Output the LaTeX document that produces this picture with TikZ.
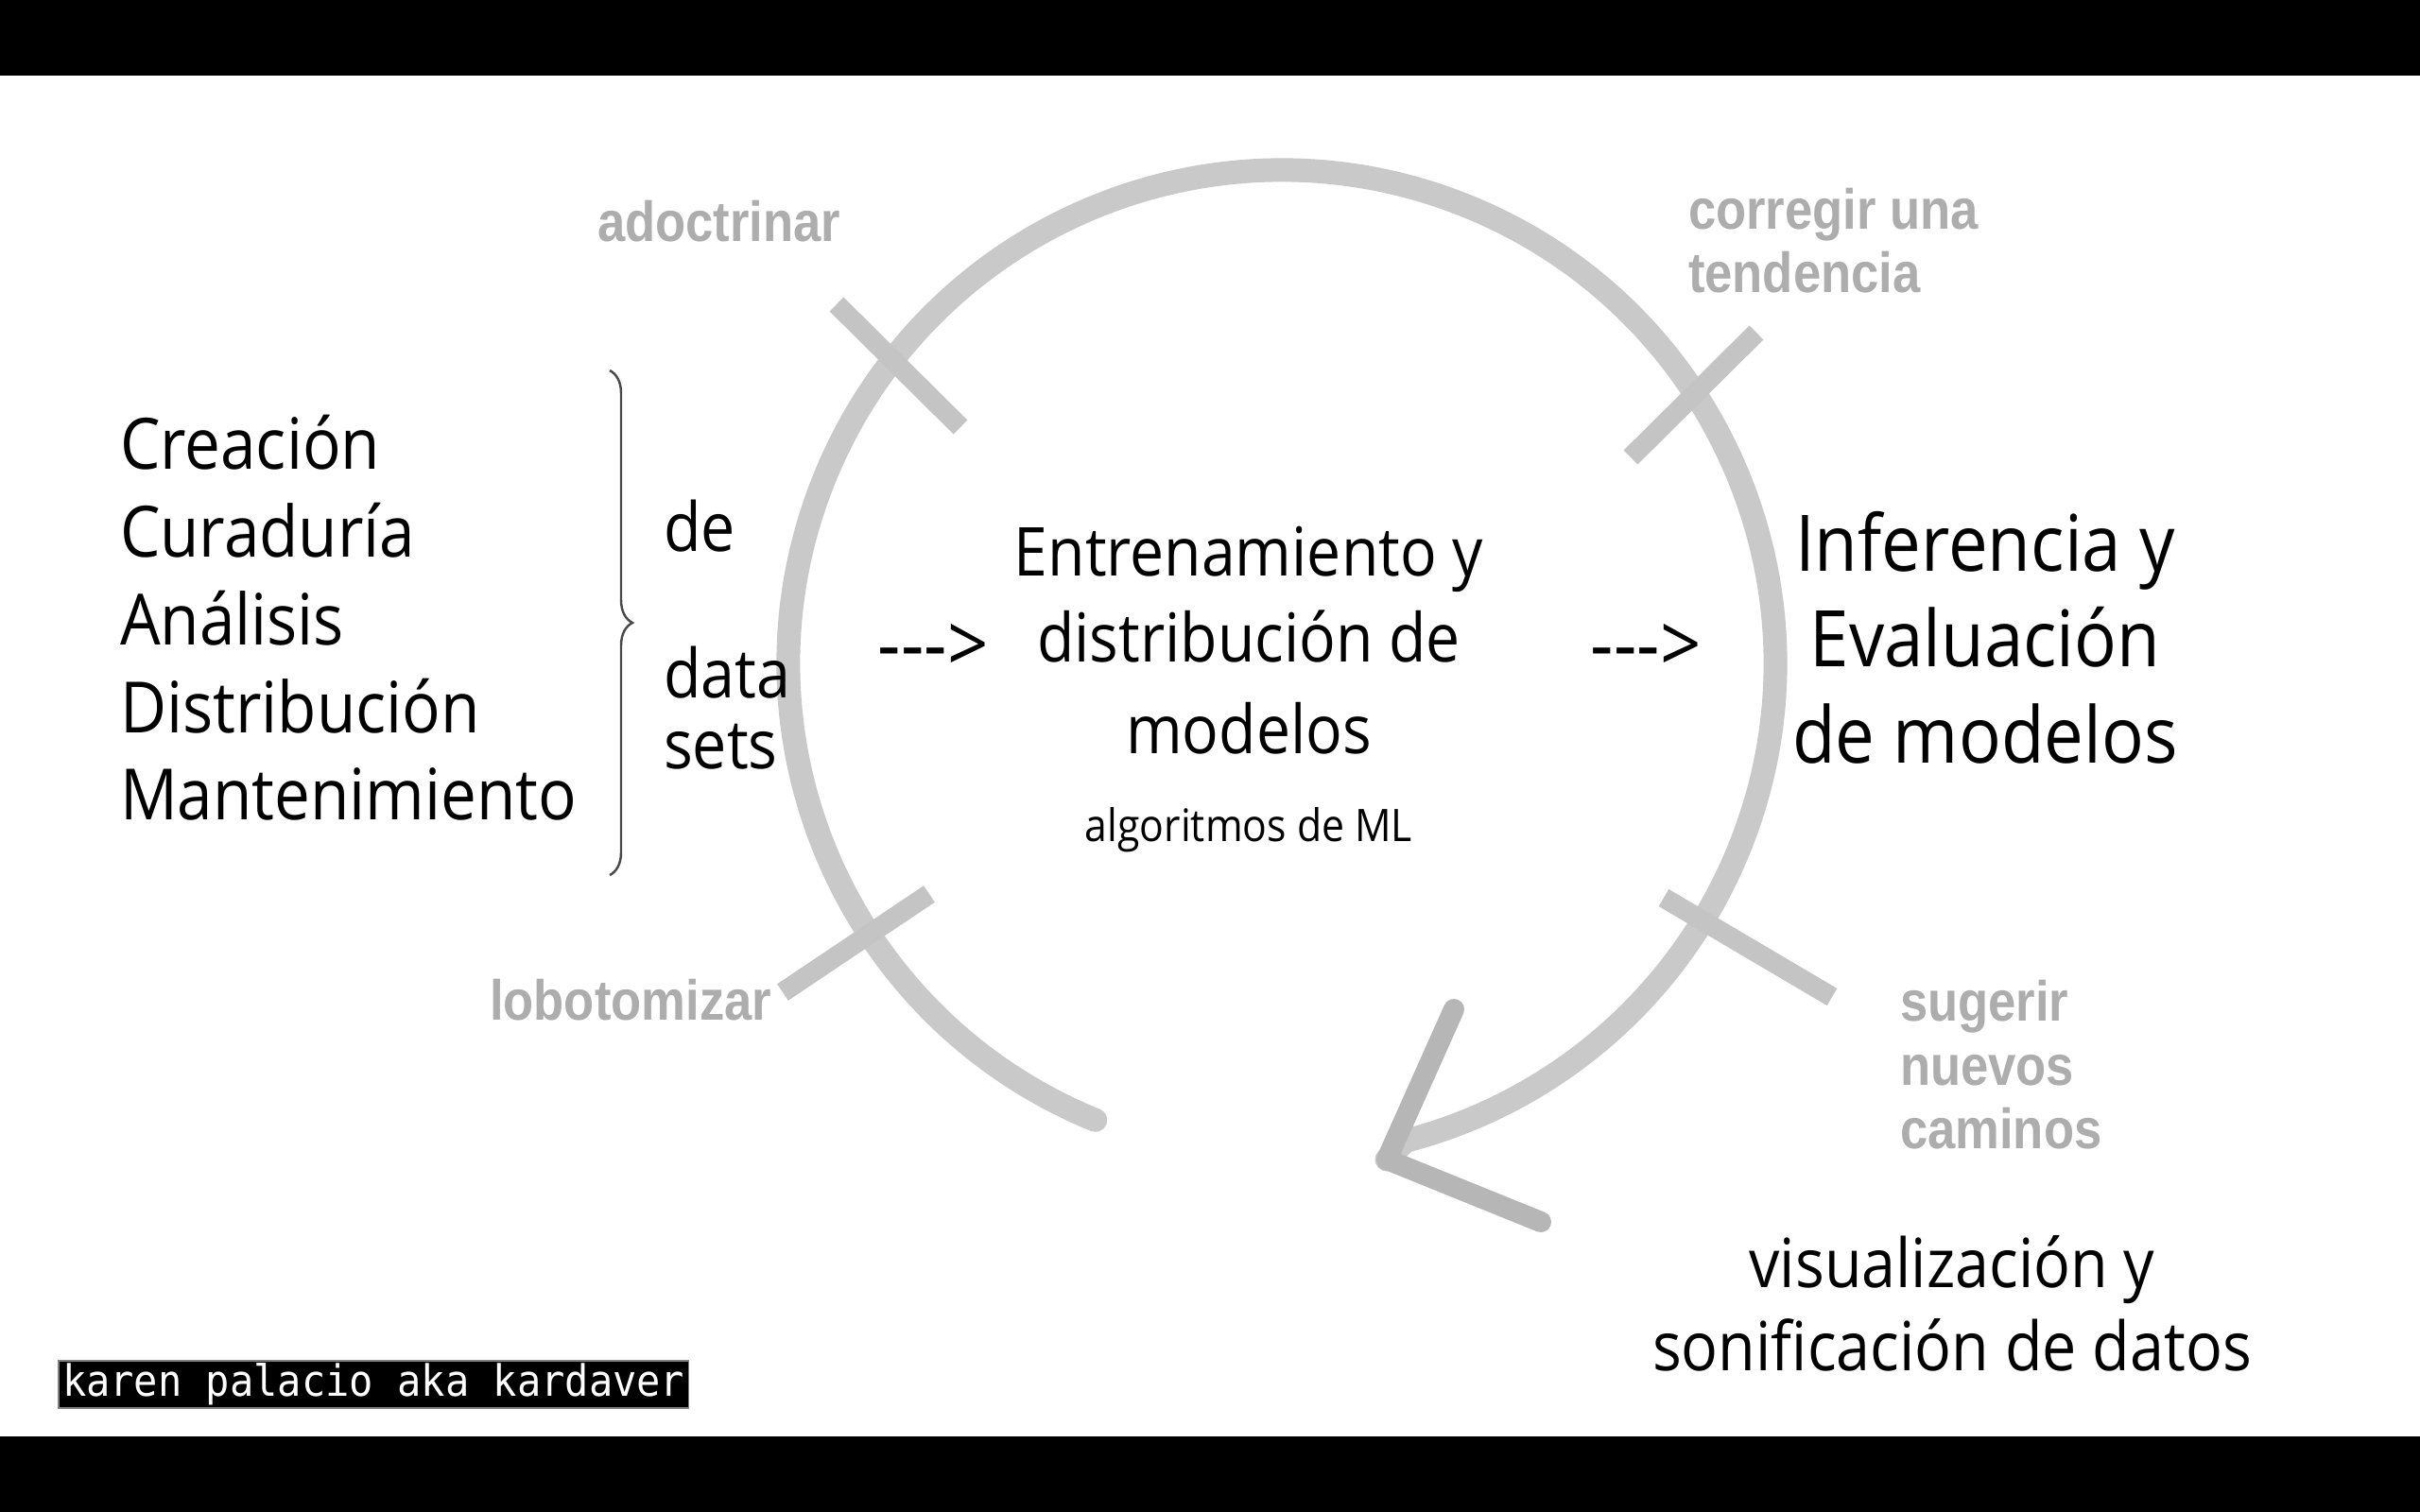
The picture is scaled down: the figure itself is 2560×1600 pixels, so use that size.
\documentclass[tikz,border=0pt]{standalone}
\usepackage{fontspec}
\setmainfont{Open Sans}
\newfontfamily\osans[FakeStretch=0.90]{Open Sans}
\newfontfamily\labfont[FakeStretch=0.88]{Liberation Sans}
\newfontfamily\monofont[FakeStretch=0.92]{DejaVu Sans Mono}
\usetikzlibrary{decorations.pathreplacing,calc}
\definecolor{ringgray}{HTML}{C9C9C9}
\definecolor{tickgray}{HTML}{C4C4C4}
\definecolor{headgray}{HTML}{B6B6B6}
\definecolor{labgray}{HTML}{ADADAD}
\definecolor{bracegray}{HTML}{4A4A4A}
\begin{document}
\begin{tikzpicture}[x=0.01cm,y=-0.01cm,
  every node/.style={inner sep=0pt, outer sep=0pt},
  listtxt/.style={anchor=base west, font=\osans\fontsize{21.3}{26}\selectfont},
  detxt/.style={anchor=base west, font=\osans\fontsize{20.4}{25}\selectfont},
  midtxt/.style={anchor=base, font=\osans\fontsize{20.3}{25}\selectfont},
  smalltxt/.style={anchor=base, font=\osans\fontsize{13.5}{17}\selectfont},
  righttxt/.style={anchor=base, font=\osans\fontsize{23.5}{29}\selectfont},
  vistxt/.style={anchor=base, font=\osans\fontsize{20.4}{25}\selectfont},
  arrtxt/.style={anchor=base, font=\osans\fontsize{24}{28}\selectfont},
  labtxt/.style={anchor=base west, text=labgray, font=\labfont\bfseries\fontsize{17}{20}\selectfont},
  ring/.style={draw=ringgray, line width=0.25cm, line cap=round},
  tickbar/.style={draw=tickgray, line width=0.21cm, line cap=butt},
  headline/.style={draw=headgray, line width=0.22cm, line cap=round, line join=round},
]
\useasboundingbox (0,0) rectangle (2560,1600);
\fill[white] (0,0) rectangle (2560,1600);
% black bars
\fill[black] (0,0) rectangle (2560,80);
\fill[black] (0,1520) rectangle (2560,1600);

% ring
\coordinate (c) at (1356,702);
\coordinate (tip) at (1467,1227);
\draw[ring] ($(c)+(112.2:522)$) arc[start angle=112.2, end angle=435.5, radius=522] -- (tip);
% arrow head
\coordinate (h1) at (1538,1068);
\coordinate (h2) at (1630,1293);
\draw[headline] (h1) -- (tip) -- (h2);

% tick marks
\coordinate (t1a) at (885,322);  \coordinate (t1b) at (1016,452);
\coordinate (t2a) at (1858,352); \coordinate (t2b) at (1725,484);
\coordinate (t3a) at (983,946);  \coordinate (t3b) at (828,1050);
\coordinate (t4a) at (1760,950); \coordinate (t4b) at (1938,1055);
\draw[tickbar] (t1a) -- (t1b);
\draw[tickbar] (t2a) -- (t2b);
\draw[tickbar] (t3a) -- (t3b);
\draw[tickbar] (t4a) -- (t4b);

% grey labels
\node[labtxt] (adoc) at (632,256) {adoctrinar};
\node[labtxt] (corr1) at (1786,243) {corregir una};
\node[labtxt] (corr2) at (1786,310) {tendencia};
\node[labtxt] (lobo) at (518,1079) {lobotomizar};
\node[labtxt] (sug1) at (2010,1080) {sugerir};
\node[labtxt] (sug2) at (2010,1148) {nuevos};
\node[labtxt] (sug3) at (2010,1215) {caminos};

% left list
\node[listtxt] (l1) at (127,496) {Creación};
\node[listtxt] (l2) at (127,589) {Curaduría};
\node[listtxt] (l3) at (127,682) {Análisis};
\node[listtxt] (l4) at (127,775) {Distribución};
\node[listtxt] (l5) at (127,867) {Mantenimiento};

% brace
\coordinate (bt) at (645,392);
\coordinate (bb) at (645,926);
\draw[bracegray, line width=0.7pt, decorate, decoration={brace, amplitude=0.24cm}] (bt) -- (bb);

\node[detxt] (de) at (702,583) {de};
\node[detxt] (data) at (702,738) {data};
\node[detxt] (sets) at (702,813) {sets};

% arrows as text
\node[arrtxt] (a1) at (987,711) {-{}-{}->};
\node[arrtxt] (a2) at (1741,711) {-{}-{}->};

% centre text
\node[midtxt] (m1) at (1321,609) {Entrenamiento y};
\node[midtxt] (m2) at (1321,700) {distribución de};
\node[midtxt] (m3) at (1321,797) {modelos};
\node[smalltxt] (m4) at (1321,890) {algoritmos de ML};

% right text
\node[righttxt] (r1) at (2100,604) {Inferencia y};
\node[righttxt] (r2) at (2100,705) {Evaluación};
\node[righttxt] (r3) at (2100,807) {de modelos};

% bottom right
\node[vistxt] (v1) at (2065,1362) {visualización y};
\node[vistxt] (v2) at (2065,1450) {sonificación de datos};

% credit
\node[fill=black, draw=gray, line width=0.4pt, text=white, anchor=north west,
      minimum width=6.66cm, minimum height=0.5cm,
      font=\monofont\fontsize{13}{15}\selectfont] (credit) at (62,1440) {karen palacio aka kardaver};
\end{tikzpicture}
\end{document}
